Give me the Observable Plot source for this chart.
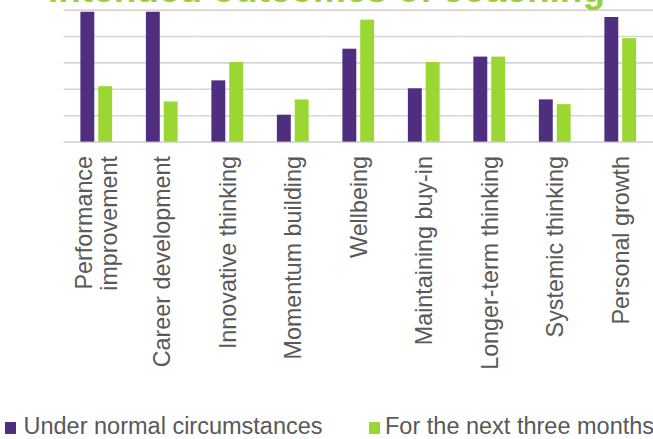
<!DOCTYPE html>
<html><head><meta charset="utf-8">
<script src="https://cdn.jsdelivr.net/npm/d3@7"></script>
<script src="https://cdn.jsdelivr.net/npm/@observablehq/plot@0.6"></script>
<style>
html,body{margin:0;padding:0;background:#fff;overflow:hidden;width:653px;height:439px}
#wrap{position:relative;width:653px;height:439px;overflow:hidden;font-family:"Liberation Sans",Arial,sans-serif}
#title{position:absolute;left:0;width:653px;top:-29px;text-align:center;font-weight:bold;font-size:37px;line-height:37px;color:#9BD138;white-space:nowrap}
#chart{position:absolute;left:0;top:0}
.item{position:absolute;top:416px;font-size:23.5px;line-height:20px;color:#595959;white-space:nowrap}
.sw{position:absolute;top:422px;width:11px;height:12px}
</style></head>
<body><div id="wrap">
<div id="chart"></div>
<div id="title">Intended outcomes of coaching</div>
<div id="legend"></div>
</div>
<script>
const categories = ["Performance\nimprovement", "Career development", "Innovative thinking", "Momentum building", "Wellbeing", "Maintaining buy-in", "Longer-term thinking", "Systemic thinking", "Personal growth"];
const seriesNames = ["Under normal circumstances", "For the next three months"];
const normalValues = [24.6, 24.6, 11.6, 5.1, 17.6, 10.1, 16.1, 8.0, 23.6];
const nextThreeValues = [10.5, 7.6, 15.1, 8.0, 23.1, 15.1, 16.1, 7.1, 19.6];
const gridTicks = [0, 5, 10, 15, 20, 25];
const colors = ["#4F2D7F", "#9BD732"];

const table = categories.flatMap((c, i) => [
  {category: c, series: seriesNames[0], value: normalValues[i]},
  {category: c, series: seriesNames[1], value: nextThreeValues[i]}
]);

const chart = Plot.plot({
  width: 658, height: 400,
  marginLeft: 64, marginRight: 0, marginTop: 9.7, marginBottom: 257.3,
  style: {fontFamily: "Liberation Sans, Arial, sans-serif", background: "white"},
  fx: {domain: categories, padding: 0},
  x: {domain: seriesNames, paddingInner: 0.2, paddingOuter: 0.9, axis: null},
  y: {domain: [0, 25], axis: null},
  color: {domain: seriesNames, range: colors},
  marks: [
    Plot.ruleY(gridTicks, {stroke: "#d6d6d6", strokeWidth: 1.6}),
    Plot.barY(table, {fx: "category", x: "series", y: "value", fill: "series"}),
    Plot.axisFx({anchor: "bottom", tickSize: 0, tickPadding: 14, tickRotate: -90, fontSize: 23.5, fill: "#595959", textAnchor: "end", lineAnchor: "middle", lineHeight: 1.05, label: null})
  ]
});
document.getElementById("chart").appendChild(chart);

const legendPos = [{sw: 5, tx: 23.5}, {sw: 369, tx: 385}];
const legend = document.getElementById("legend");
seriesNames.forEach((name, i) => {
  const sw = document.createElement("div");
  sw.className = "sw";
  sw.style.left = legendPos[i].sw + "px";
  sw.style.background = colors[i];
  legend.appendChild(sw);
  const t = document.createElement("div");
  t.className = "item";
  t.style.left = legendPos[i].tx + "px";
  t.textContent = name;
  legend.appendChild(t);
});
</script>
</body></html>
